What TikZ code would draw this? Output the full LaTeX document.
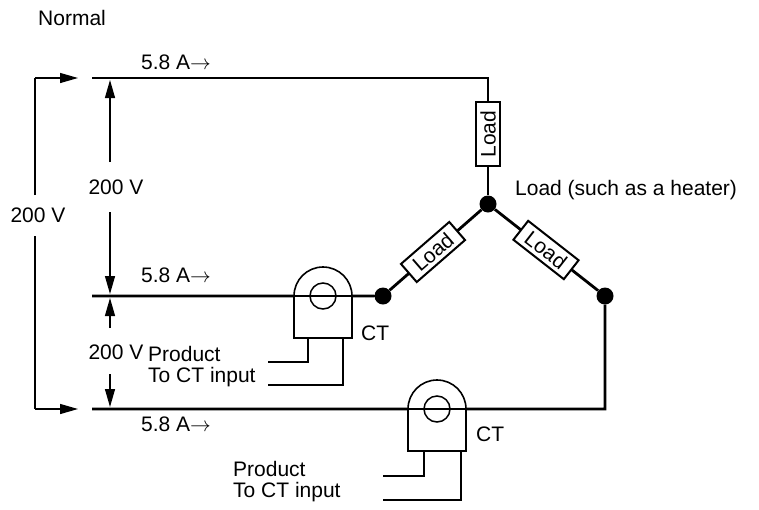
\documentclass[tikz,border=0pt]{standalone}
\usepackage{fontspec}
\setmainfont{Liberation Sans}
\usetikzlibrary{arrows.meta}
\begin{document}
\begin{tikzpicture}[x=1pt,y=-1pt,
  wire/.style={line width=2.8pt},
  thin/.style={line width=1.5pt},
  lbl/.style={font=\fontsize{21}{23}\selectfont,inner sep=0pt},
  dot/.style={circle,fill=black,minimum size=17pt,inner sep=0pt},
  load/.style={draw,line width=2pt,fill=white,minimum width=64pt,minimum height=24pt,inner sep=0pt,font=\fontsize{21}{23}\selectfont},
  arr/.style={line width=1.3pt,-{Triangle[length=18pt,width=10pt]}},
  ct/.style={line width=1.6pt,fill=white}]
\useasboundingbox (0,0) rectangle (759,509);
\node[lbl,anchor=west] (normal) at (38,18) {Normal};
% wires
\coordinate (t1) at (92,78); \coordinate (t2) at (488,78);
\node[dot] (J) at (488,204) {};
\node[dot] (D1) at (383,296) {};
\node[dot] (D2) at (605,296) {};
\coordinate (m1) at (92,296);
\coordinate (b1) at (92,409); \coordinate (b2) at (605,409);
\draw[wire] (t1) -- (t2) -- (J);
\draw[wire] (m1) -- (D1) -- (J) -- (D2) -- (b2) -- (b1);
\node[load,rotate=90] (L1) at (488,134) {Load};
\node[load,rotate=41] (L2) at (433,252) {Load};
\node[load,rotate=-38] (L3) at (546,250) {Load};
\node[lbl,anchor=west] (heater) at (515,190) {Load (such as a heater)};
% CT1
\draw[ct] (294,338) -- (294,296) arc[start angle=180,end angle=360,radius=29] -- (352,338) -- cycle;
\draw[wire] (270,296) -- (383,296);
\draw[thin] (323,296) circle[radius=13];
\node[lbl,anchor=west] (ct1) at (361,333) {CT};
\draw[thin] (308,338) -- (308,362) -- (268,362);
\draw[thin] (343,338) -- (343,385) -- (268,385);
\node[lbl,anchor=west] (p1) at (148,354) {Product};
\node[lbl,anchor=west] (c1) at (148,377) {To CT input};
% CT2
\draw[ct] (408,451) -- (408,409) arc[start angle=180,end angle=360,radius=29] -- (466,451) -- cycle;
\draw[wire] (390,409) -- (490,409);
\draw[thin] (437,409) circle[radius=13];
\node[lbl,anchor=west] (ct2) at (476,434) {CT};
\draw[thin] (424,451) -- (424,476) -- (383,476);
\draw[thin] (461,451) -- (461,500) -- (383,500);
\node[lbl,anchor=west] (p2) at (233,469) {Product};
\node[lbl,anchor=west] (c2) at (233,492) {To CT input};
% currents
\node[lbl,anchor=west] (i1) at (141,62) {5.8 A$\rightarrow$};
\node[lbl,anchor=west] (i2) at (141,275) {5.8 A$\rightarrow$};
\node[lbl,anchor=west] (i3) at (141,424) {5.8 A$\rightarrow$};
% voltages
\node[lbl] (v0) at (38,215) {200 V};
\draw[arr] (35,78) -- (78,78);
\draw[arr] (35,409) -- (78,409);
\draw[line width=1.3pt] (35,236) -- (35,409);
\draw[line width=1.3pt] (35,195) -- (35,78);
\node[lbl] (v1) at (116,187) {200 V};
\draw[arr] (110,162) -- (110,80);
\draw[arr] (110,212) -- (110,294);
\node[lbl] (v2) at (116,352) {200 V};
\draw[arr] (110,328) -- (110,298);
\draw[arr] (110,374) -- (110,407);
\end{tikzpicture}
\end{document}
